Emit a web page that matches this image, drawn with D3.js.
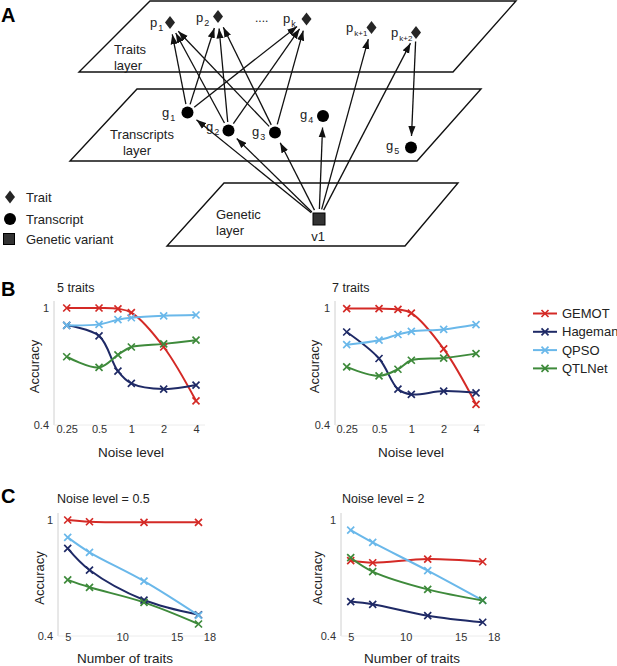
<!DOCTYPE html>
<html><head><meta charset="utf-8">
<script src="https://cdn.jsdelivr.net/npm/d3@7"></script>
<style>
body{margin:0;background:#fff}
text{font-family:"Liberation Sans",Arial,Helvetica,sans-serif;fill:#222}
</style>
</head><body>
<svg id="fig" width="617" height="666"></svg>
<script>
// ---------------- DATA ----------------
const methods = ["GEMOT", "Hageman", "QPSO", "QTLNet"];
const noiseLevels = [0.25, 0.5, 0.75, 1, 2, 4];
const noiseTickLabels = [0.25, 0.5, 1, 2, 4];
const traitCounts = [5, 7, 12, 17];
const traitTickLabels = [5, 10, 15, 18];
const accuracyTickLabels = [0.4, 1];

// Panel B, 5 traits (accuracy vs noise level)
const gemot5Traits   = [1.000, 1.000, 0.996, 0.976, 0.800, 0.524];
const hageman5Traits = [0.911, 0.857, 0.676, 0.613, 0.584, 0.605];
const qpso5Traits    = [0.911, 0.916, 0.940, 0.950, 0.960, 0.964];
const qtlnet5Traits  = [0.750, 0.695, 0.760, 0.800, 0.816, 0.835];
// Panel B, 7 traits
const gemot7Traits   = [0.997, 0.997, 0.993, 0.974, 0.790, 0.506];
const hageman7Traits = [0.877, 0.741, 0.584, 0.557, 0.574, 0.565];
const qpso7Traits    = [0.812, 0.835, 0.864, 0.880, 0.890, 0.915];
const qtlnet7Traits  = [0.698, 0.652, 0.686, 0.732, 0.743, 0.766];
// Panel C, noise level = 0.5 (accuracy vs number of traits)
const gemotNoise05   = [1.000, 0.991, 0.988, 0.988];
const hagemanNoise05 = [0.853, 0.741, 0.586, 0.510];
const qpsoNoise05    = [0.910, 0.833, 0.684, 0.507];
const qtlnetNoise05  = [0.690, 0.652, 0.574, 0.462];
// Panel C, noise level = 2
const gemotNoise2    = [0.790, 0.779, 0.798, 0.784];
const hagemanNoise2  = [0.578, 0.564, 0.505, 0.471];
const qpsoNoise2     = [0.948, 0.884, 0.738, 0.584];
const qtlnetNoise2   = [0.805, 0.733, 0.641, 0.584];

// Diagram (panel A) structure
const traitNodes = ["p1", "p2", "pk", "pk+1", "pk+2"];
const transcriptNodes = ["g1", "g2", "g3", "g4", "g5"];
const variantNodes = ["v1"];
const diagramEdges = [
  ["g1","p1"],["g1","p2"],["g1","pk"],
  ["g2","p1"],["g2","p2"],["g2","pk"],
  ["g3","p1"],["g3","p2"],["g3","pk"],
  ["v1","g1"],["v1","g2"],["v1","g3"],["v1","g4"],
  ["v1","pk+1"],["v1","pk+2"],["pk+2","g5"]
];

// ---------------- STYLE / LAYOUT ----------------
const colors = {GEMOT:"#d42a26", Hageman:"#1f2a66", QPSO:"#6ab8ea", QTLNet:"#3e8a3b"};
const font = '"Liberation Sans",Arial,Helvetica,sans-serif';
const svg = d3.select("#fig");
svg.append("rect").attr("width",617).attr("height",666).attr("fill","#fff");

// Node layout for the schematic
const nodePos = {
  "p1":[170,22.5], "p2":[218,16.5], "pk":[306.5,19], "pk+1":[371.5,27.5], "pk+2":[416,32.5],
  "g1":[187.5,112.5], "g2":[228.5,130.5], "g3":[275,132.5], "g4":[323,116], "g5":[411,147.5],
  "v1":[319,219]
};
const nodeLabelPos = {
  "p1":[150,27], "p2":[196,22], "pk":[283,23], "pk+1":[346,32], "pk+2":[391,36.5],
  "g1":[162,116.5], "g2":[206,130.5], "g3":[252,136], "g4":[300,118.5], "g5":[386,149.5]
};
const nodeRadius = {trait:7, transcript:6.5, variant:8};

// ---------------- PANEL A ----------------
const A = svg.append("g");
const planes = [
  [[150,1],[516,1],[453,72],[79,72]],
  [[137,89],[481,89],[417,161],[70,161]],
  [[224,183],[458,183],[405,246],[167,246]]
];
A.selectAll("path.plane").data(planes).join("path")
  .attr("class","plane")
  .attr("d", d => d3.line()(d) + "Z")
  .attr("fill","none").attr("stroke","#111").attr("stroke-width",1.4);

svg.append("defs").append("marker")
  .attr("id","ah").attr("viewBox","0 -4 10 8").attr("refX",10).attr("refY",0)
  .attr("markerUnits","userSpaceOnUse").attr("markerWidth",10).attr("markerHeight",8)
  .attr("orient","auto")
  .append("path").attr("d","M0,-3.6L10,0L0,3.6Z").attr("fill","#111");

function nodeType(n){ return n[0]==="p"?"trait":(n[0]==="g"?"transcript":"variant"); }
A.selectAll("line.edge").data(diagramEdges).join("line")
  .attr("class","edge")
  .each(function(e){
    const s = nodePos[e[0]], t = nodePos[e[1]];
    const dx = t[0]-s[0], dy = t[1]-s[1], L = Math.hypot(dx,dy);
    const ux = dx/L, uy = dy/L;
    const rs = nodeRadius[nodeType(e[0])] + 2, rt = nodeRadius[nodeType(e[1])] + 5;
    d3.select(this)
      .attr("x1", s[0]+ux*rs).attr("y1", s[1]+uy*rs)
      .attr("x2", t[0]-ux*rt).attr("y2", t[1]-uy*rt);
  })
  .attr("stroke","#111").attr("stroke-width",1.3).attr("marker-end","url(#ah)");

const diamondPath = "M0,-6.5L5,0L0,6.5L-5,0Z";
A.selectAll("path.trait").data(traitNodes).join("path")
  .attr("class","trait").attr("d",diamondPath)
  .attr("transform",d=>`translate(${nodePos[d][0]},${nodePos[d][1]})`)
  .attr("fill","#262626");
A.selectAll("circle.tr").data(transcriptNodes).join("circle")
  .attr("class","tr").attr("cx",d=>nodePos[d][0]).attr("cy",d=>nodePos[d][1])
  .attr("r",6).attr("fill","#000");
A.selectAll("rect.var").data(variantNodes).join("rect")
  .attr("class","var").attr("x",d=>nodePos[d][0]-6).attr("y",d=>nodePos[d][1]-6)
  .attr("width",12).attr("height",12).attr("fill","#333").attr("stroke","#000");

function subLabel(g, id){
  const p = nodeLabelPos[id];
  const t = g.append("text").attr("x",p[0]).attr("y",p[1]).attr("font-size",13);
  t.append("tspan").text(id[0]);
  t.append("tspan").attr("dy",4).attr("font-size", id.length>2?8:9).attr("dx",1).text(id.slice(1));
}
traitNodes.concat(transcriptNodes).forEach(id => subLabel(A, id));
A.append("text").attr("x",255).attr("y",22).attr("font-size",12).text("....");
A.append("text").attr("x",318).attr("y",241).attr("font-size",13).attr("text-anchor","middle").text("v1");

const layerLabels = [
  ["Traits", 130, 54], ["layer", 128, 70],
  ["Transcripts", 142, 139], ["layer", 137, 155]
];
A.selectAll("text.layer").data(layerLabels).join("text")
  .attr("class","layer").attr("x",d=>d[1]).attr("y",d=>d[2])
  .attr("text-anchor","middle").attr("font-size",13).text(d=>d[0]);
A.append("text").attr("x",216).attr("y",219).attr("font-size",13).text("Genetic");
A.append("text").attr("x",216).attr("y",235).attr("font-size",13).text("layer");

// legend A
A.append("path").attr("d",diamondPath).attr("transform","translate(10,197)").attr("fill","#262626");
A.append("circle").attr("cx",10).attr("cy",219).attr("r",6).attr("fill","#000");
A.append("rect").attr("x",3.5).attr("y",233.5).attr("width",11).attr("height",11).attr("fill","#333").attr("stroke","#000");
[["Trait",201.5],["Transcript",223.5],["Genetic variant",244]].forEach(d=>{
  A.append("text").attr("x",26).attr("y",d[1]).attr("font-size",13).text(d[0]);
});
svg.append("text").attr("x",1).attr("y",22).attr("font-size",20).attr("font-weight","bold").style("fill","#000").text("A");
svg.append("text").attr("x",1).attr("y",296).attr("font-size",20).attr("font-weight","bold").style("fill","#000").text("B");
svg.append("text").attr("x",1).attr("y",503).attr("font-size",20).attr("font-weight","bold").style("fill","#000").text("C");

// ---------------- LINE PANELS ----------------
const crossPath = "M-3.5,-3.5L3.5,3.5M-3.5,3.5L3.5,-3.5";

function linePanel(cfg){
  const g = svg.append("g");
  const x = cfg.x, y = cfg.y;
  // axis line
  const ax = d3.axisLeft(y).tickValues(accuracyTickLabels).tickSize(0).tickPadding(5)
    .tickFormat(d3.format("~g"));
  const ag = g.append("g").attr("transform",`translate(${cfg.axisX},0)`).call(ax);
  ag.select(".domain").remove();
  ag.selectAll("text").attr("font-size",11).style("font-family",font).style("fill","#333");
  g.append("line").attr("x1",cfg.axisX).attr("x2",cfg.axisX)
    .attr("y1",y(1)-7).attr("y2",y(0.4)).attr("stroke","#d0d0d0").attr("stroke-width",1);
  g.append("line").attr("x1",cfg.axisX).attr("x2",cfg.xEnd)
    .attr("y1",y(0.4)).attr("y2",y(0.4)).attr("stroke","#ececec").attr("stroke-width",1);
  const bx = d3.axisBottom(x).tickValues(cfg.ticks).tickSize(0).tickPadding(0)
    .tickFormat(d3.format("~g"));
  const bg = g.append("g").attr("transform",`translate(0,${cfg.tickY})`).call(bx);
  bg.select(".domain").remove();
  bg.selectAll("text").attr("font-size",11).attr("dy",0).style("font-family",font).style("fill","#333");
  g.append("text").attr("transform",`translate(${cfg.yLabelX},${(y(1)+y(0.4))/2}) rotate(-90)`)
    .attr("text-anchor","middle").attr("font-size",13).text("Accuracy");
  g.append("text").attr("x",cfg.xLabelX).attr("y",cfg.xLabelY).attr("text-anchor","middle")
    .attr("font-size",13.5).text(cfg.xLabel);
  g.append("text").attr("x",cfg.titleX).attr("y",cfg.titleY).attr("font-size",12.5).text(cfg.title);

  const line = d3.line().x((d,i)=>x(cfg.xs[i])).y(d=>y(d)).curve(d3.curveCatmullRom.alpha(0.5));
  cfg.series.forEach((vals, k) => {
    const m = methods[k];
    g.append("path").datum(vals).attr("d",line).attr("fill","none")
      .attr("stroke",colors[m]).attr("stroke-width",2);
  });
  cfg.series.forEach((vals, k) => {
    const m = methods[k];
    g.selectAll(null).data(vals).join("path").attr("d",crossPath)
      .attr("transform",(d,i)=>`translate(${x(cfg.xs[i])},${y(d)})`)
      .attr("stroke",colors[m]).attr("stroke-width",1.7).attr("fill","none");
  });
}

const yB = d3.scaleLinear().domain([0.4,1]).range([425,308]);
const yC = d3.scaleLinear().domain([0.4,1]).range([636,520]);

linePanel({x:d3.scaleLog().base(2).domain([0.25,4]).range([66.7,196]), y:yB, axisX:54, xEnd:205,
  xs:noiseLevels, ticks:noiseTickLabels, tickY:433, yLabelX:39, xLabel:"Noise level", xLabelX:131, xLabelY:457,
  title:"5 traits", titleX:57, titleY:292,
  series:[gemot5Traits, hageman5Traits, qpso5Traits, qtlnet5Traits]});
linePanel({x:d3.scaleLog().base(2).domain([0.25,4]).range([346.7,476]), y:yB, axisX:335, xEnd:485,
  xs:noiseLevels, ticks:noiseTickLabels, tickY:433, yLabelX:319, xLabel:"Noise level", xLabelX:411, xLabelY:457,
  title:"7 traits", titleX:332, titleY:292,
  series:[gemot7Traits, hageman7Traits, qpso7Traits, qtlnet7Traits]});
linePanel({x:d3.scaleLinear().domain([5,17]).range([67.7,198.5]), y:yC, axisX:58, xEnd:207,
  xs:traitCounts, ticks:traitTickLabels, tickY:641, yLabelX:44, xLabel:"Number of traits", xLabelX:125, xLabelY:663,
  title:"Noise level = 0.5", titleX:57, titleY:503,
  series:[gemotNoise05, hagemanNoise05, qpsoNoise05, qtlnetNoise05]});
linePanel({x:d3.scaleLinear().domain([5,17]).range([350.7,482.7]), y:yC, axisX:341, xEnd:490,
  xs:traitCounts, ticks:traitTickLabels, tickY:641, yLabelX:322, xLabel:"Number of traits", xLabelX:412, xLabelY:663,
  title:"Noise level = 2", titleX:342, titleY:503,
  series:[gemotNoise2, hagemanNoise2, qpsoNoise2, qtlnetNoise2]});

// legend B
const lg = svg.append("g");
methods.forEach((m,i)=>{
  const yy = 313.5 + i*18.3;
  lg.append("line").attr("x1",533).attr("x2",557).attr("y1",yy).attr("y2",yy)
    .attr("stroke",colors[m]).attr("stroke-width",2);
  lg.append("path").attr("d",crossPath).attr("transform",`translate(545,${yy})`)
    .attr("stroke",colors[m]).attr("stroke-width",1.7);
  lg.append("text").attr("x",562).attr("y",yy+4.5).attr("font-size",13).text(m);
});
</script>
</body></html>
